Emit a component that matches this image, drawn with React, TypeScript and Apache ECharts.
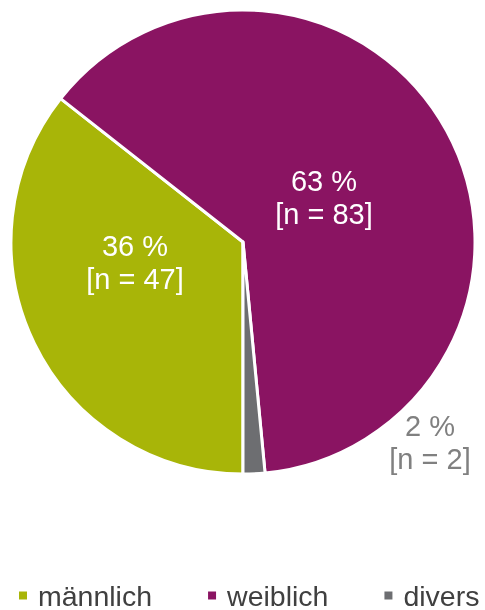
import React, { useEffect, useRef } from "react";
import * as echarts from "echarts";

const categories = ["männlich", "weiblich", "divers"];
const counts = [47, 83, 2];
const percents = [36, 63, 2];
const colors = ["#A8B508", "#8A1462", "#6D6E71"];
const labelColors = ["#FFFFFF", "#FFFFFF", "#808080"];
const labelPositions: [number, number][] = [
  [135, 262],
  [324, 197],
  [430, 442],
];

export default function App() {
  const ref = useRef<HTMLDivElement>(null);
  useEffect(() => {
    if (!ref.current) return;
    const chart = echarts.init(ref.current, null, { renderer: "svg" });
    const font = "'Liberation Sans', Arial, sans-serif";
    chart.setOption({
      animation: false,
      legend: {
        data: categories,
        top: 576,
        left: 12,
        icon: "rect",
        itemWidth: 10,
        itemHeight: 10,
        itemGap: 54,
        textStyle: {
          fontFamily: font,
          fontSize: 28.5,
          color: "#404040",
          padding: [0, 0, 0, 5],
        },
      },
      series: [
        {
          type: "pie",
          center: [243, 242],
          radius: [0, 232],
          startAngle: -90,
          clockwise: true,
          avoidLabelOverlap: false,
          itemStyle: { borderColor: "#FFFFFF", borderWidth: 3 },
          emphasis: { disabled: true },
          label: {
            show: true,
            position: "inside",
            fontFamily: font,
            fontSize: 29,
            lineHeight: 33,
            align: "center",
            formatter: (p: any) =>
              `${percents[p.dataIndex]} %\n[n = ${counts[p.dataIndex]}]`,
          },
          labelLine: { show: false },
          labelLayout: (p: any) => ({
            x: labelPositions[p.dataIndex][0],
            y: labelPositions[p.dataIndex][1],
            align: "center",
            verticalAlign: "middle",
          }),
          data: categories.map((name, i) => ({
            name,
            value: counts[i],
            itemStyle: { color: colors[i] },
            label: { color: labelColors[i] },
          })),
        },
      ],
    });
    return () => chart.dispose();
  }, []);
  return (
    <div
      ref={ref}
      style={{ position: "fixed", left: 0, top: 0, width: 485, height: 610 }}
    />
  );
}
